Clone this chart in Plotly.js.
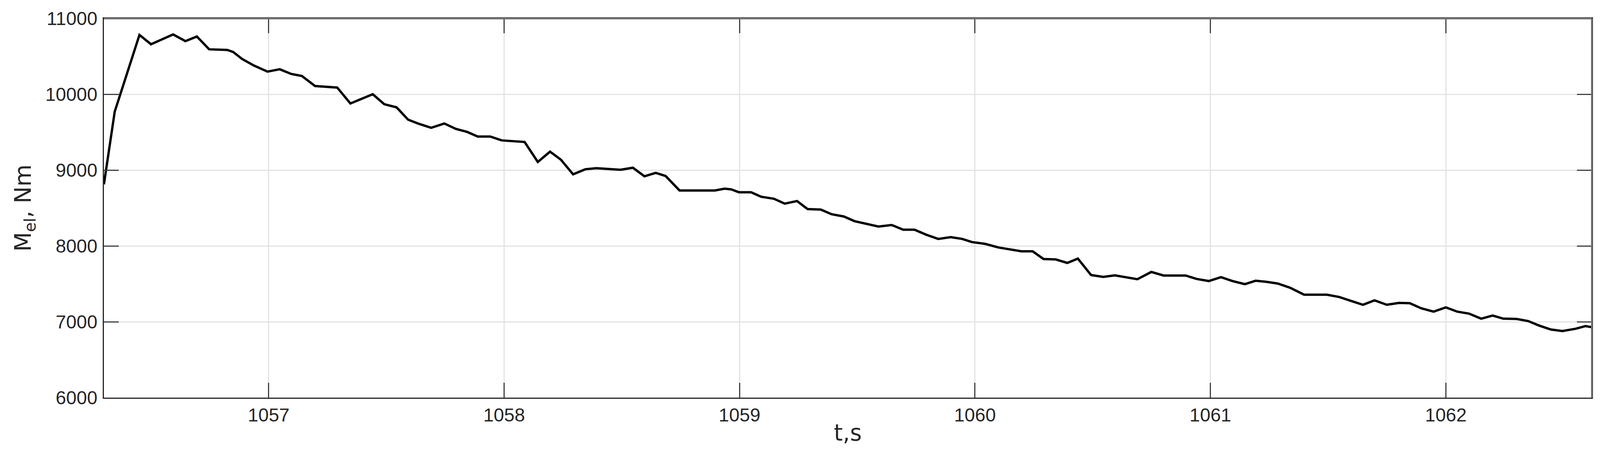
<!DOCTYPE html>
<html>
<head>
<meta charset="utf-8">
<script src="https://cdn.plot.ly/plotly-3.0.1.min.js"></script>
<style>
  html, body { margin: 0; padding: 0; background: #fff; overflow: hidden; }
</style>
</head>
<body>
<div id="chart"></div>
<script>
// time, s
const timeS = [
  1056.300, 1056.346, 1056.451, 1056.500, 1056.594, 1056.646, 1056.695, 1056.747,
  1056.824, 1056.849, 1056.887, 1056.936, 1056.995, 1057.047, 1057.096, 1057.141,
  1057.197, 1057.291, 1057.347, 1057.442, 1057.491, 1057.543, 1057.592, 1057.634,
  1057.690, 1057.746, 1057.795, 1057.843, 1057.888, 1057.941, 1057.990, 1058.087,
  1058.143, 1058.195, 1058.241, 1058.293, 1058.345, 1058.394, 1058.494, 1058.547,
  1058.596, 1058.644, 1058.686, 1058.745, 1058.895, 1058.937, 1058.965, 1058.997,
  1059.049, 1059.091, 1059.146, 1059.192, 1059.244, 1059.289, 1059.345, 1059.391,
  1059.443, 1059.488, 1059.590, 1059.646, 1059.695, 1059.743, 1059.792, 1059.844,
  1059.897, 1059.946, 1059.987, 1060.043, 1060.099, 1060.155, 1060.197, 1060.245,
  1060.291, 1060.343, 1060.392, 1060.437, 1060.493, 1060.545, 1060.594, 1060.690,
  1060.749, 1060.801, 1060.895, 1060.941, 1060.993, 1061.045, 1061.094, 1061.146,
  1061.192, 1061.237, 1061.286, 1061.338, 1061.398, 1061.495, 1061.547, 1061.596,
  1061.648, 1061.697, 1061.749, 1061.801, 1061.847, 1061.895, 1061.948, 1062.000,
  1062.049, 1062.098, 1062.150, 1062.199, 1062.244, 1062.300, 1062.349, 1062.397,
  1062.446, 1062.495, 1062.551, 1062.593, 1062.619
];

// electromagnetic torque, Nm
const torqueNm = [
  8812, 9771, 10782, 10659, 10788, 10700, 10761, 10592,
  10584, 10557, 10465, 10380, 10298, 10329, 10267, 10241,
  10108, 10088, 9878, 10000, 9868, 9827, 9665, 9614,
  9557, 9614, 9543, 9503, 9442, 9442, 9391, 9371,
  9107, 9243, 9137, 8944, 9011, 9025, 9004, 9031,
  8918, 8963, 8922, 8731, 8731, 8755, 8745, 8708,
  8708, 8649, 8622, 8557, 8592, 8486, 8480, 8418,
  8388, 8327, 8255, 8276, 8214, 8214, 8149, 8092,
  8116, 8092, 8051, 8027, 7980, 7949, 7929, 7929,
  7827, 7822, 7776, 7833, 7616, 7592, 7612, 7561,
  7657, 7610, 7610, 7565, 7537, 7588, 7537, 7496,
  7541, 7527, 7504, 7449, 7357, 7357, 7327, 7276,
  7224, 7282, 7224, 7249, 7245, 7178, 7133, 7190,
  7133, 7108, 7041, 7082, 7041, 7037, 7010, 6949,
  6898, 6878, 6908, 6943, 6929
];

const xRange = [1056.3, 1062.62];
const yRange = [6000, 11000];

// the browser may give less than 4222 px of width, so fit the figure to it
const figW = Math.min(window.innerWidth || 4222, 4222);
const figH = Math.min(window.innerHeight || 1174, 1174);
const sx = figW / 4222;
const sy = figH / 1174;

const chartDiv = document.getElementById("chart");
chartDiv.style.width = figW + "px";
chartDiv.style.height = figH + "px";

const tickFont = { family: "Liberation Sans, Arial, sans-serif", size: 48, color: "#262626" };
const titleFont = { family: "DejaVu Sans, sans-serif", size: 58, color: "#262626" };

const axisCommon = {
  showline: true,
  linecolor: "#262626",
  linewidth: 3,
  mirror: "ticks",
  ticks: "inside",
  ticklen: 38,
  tickwidth: 3,
  tickcolor: "#404040",
  showgrid: true,
  gridcolor: "#e3e3e3",
  gridwidth: 3,
  zeroline: false,
  tickfont: tickFont,
};

const data = [
  {
    x: timeS,
    y: torqueNm,
    type: "scatter",
    mode: "lines",
    line: { color: "#000000", width: 6 },
    hoverinfo: "skip",
  },
];

const layout = {
  width: figW,
  height: figH,
  paper_bgcolor: "#ffffff",
  plot_bgcolor: "#ffffff",
  showlegend: false,
  margin: {
    l: Math.round(274 * sx),
    r: Math.round(22 * sx),
    t: Math.round(47 * sy),
    b: Math.round(157 * sy),
  },
  xaxis: {
    ...axisCommon,
    range: xRange,
    tick0: 1057,
    dtick: 1,
    tickformat: "d",
    ticklabelstandoff: 0,
    title: { text: "t,s", font: titleFont, standoff: 0 },
  },
  yaxis: {
    ...axisCommon,
    range: yRange,
    tick0: 6000,
    dtick: 1000,
    tickformat: "d",
    ticklabelstandoff: 4,
    title: { text: "M<sub>el</sub>, Nm", font: titleFont, standoff: 18 },
  },
  // grey box edges on top and right, like the original figure frame
  shapes: [
    { type: "line", xref: "paper", yref: "paper", x0: 0, x1: 1, y0: 1, y1: 1,
      line: { color: "#6e6e6e", width: 5 }, layer: "above" },
    { type: "line", xref: "paper", yref: "paper", x0: 1, x1: 1, y0: 0, y1: 1,
      line: { color: "#6e6e6e", width: 4 }, layer: "above" },
  ],
};

Plotly.newPlot(chartDiv, data, layout, { displayModeBar: false, staticPlot: true });
</script>
</body>
</html>
